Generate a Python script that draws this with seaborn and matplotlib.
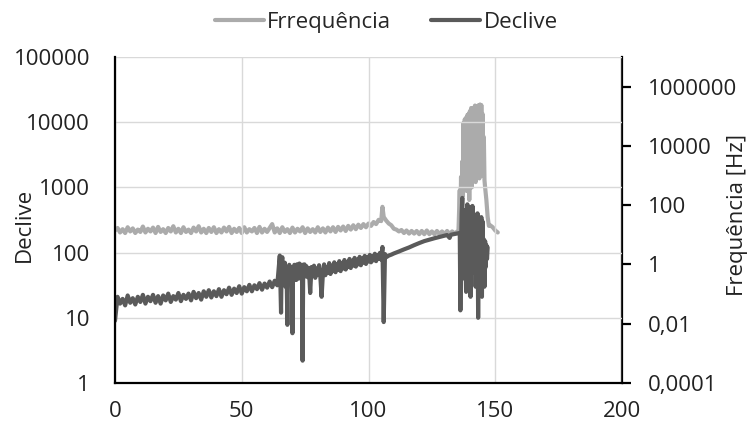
import numpy as np
import matplotlib
matplotlib.use("Agg")
import matplotlib.pyplot as plt
import matplotlib.ticker as mticker
import seaborn as sns

# Declive (left axis)
decl_x = (list(range(0, 65))
          + [65, 65.25, 65.5, 65.75, 66, 66.25, 66.5, 66.75, 67, 67.25, 67.5, 67.75, 68,
             68.25, 68.5, 68.75, 69, 69.25, 69.5, 69.75, 70, 70.25, 70.5, 70.75, 71,
             71.25, 71.5, 71.75, 72, 72.25, 72.5, 72.75, 73, 73.25, 73.5, 73.75, 74,
             74.25, 74.5, 74.75, 75]
          + [75.5, 76, 76.5, 77, 77.5, 78, 78.5, 79, 79.5, 80, 80.5, 81, 81.5, 82, 82.5,
             83, 83.5, 84, 84.5, 85, 85.5, 86, 86.5, 87, 87.5, 88, 88.5, 89, 89.5, 90,
             90.5, 91, 91.5, 92, 92.5, 93, 93.5, 94, 94.5, 95, 95.5, 96, 96.5, 97, 97.5,
             98, 98.5, 99, 99.5, 100, 100.5, 101, 101.5, 102, 102.5, 103, 103.5, 104,
             104.5, 105]
          + [105.5, 106, 106.5, 107, 108, 109, 110, 112, 114, 116, 118, 120, 122, 124,
             126, 128, 130, 131, 132, 132.5, 134, 135, 136]
          + [136.25, 136.5, 136.75, 137, 137.25, 137.5, 137.75, 138, 138.25, 138.5,
             138.75, 139, 139.25, 139.5, 139.75, 140, 140.25, 140.5, 140.75, 141,
             141.25, 141.5, 141.75, 142, 142.25, 142.5, 142.75, 143, 143.25, 143.5,
             143.75, 144, 144.25, 144.5, 144.75, 145, 145.25, 145.5, 145.75, 146,
             146.25, 146.5, 146.75, 147])
decl_y = ([9, 21, 16.5, 19.5, 15.5, 22, 17, 20, 16, 21, 17.5, 22.5, 16.5, 21, 18, 22.5,
           17, 21.5, 16.5, 22, 18.5, 23.5, 17.5, 21.5, 19, 24, 18, 22.5, 19.5, 23.5,
           18.5, 25, 20, 24, 19, 25.5, 21, 26.5, 20.5, 25.5, 21.5, 27.5, 21, 26.5, 23,
           29, 22.5, 28, 24, 30.5, 23.5, 29.5, 25.5, 32, 25.5, 31.5, 27.5, 34, 27, 33.5,
           29, 36, 29.5, 37, 31.5]
          + [90, 30, 12, 70, 85, 35, 60, 40, 70, 30, 55, 35, 7.8, 60, 40, 65, 35, 60, 40,
             55, 5.8, 60, 38, 65, 40, 62, 38, 66, 42, 60, 40, 68, 42, 62, 40, 65, 2.2, 65,
             42, 66, 44]
          + [62, 42, 58, 24, 60, 44, 63, 41, 57, 46, 64, 43, 21, 47, 66, 45, 60, 49, 69,
             47, 63, 52, 71, 50, 66, 54, 74, 52, 69, 57, 77, 55, 72, 60, 80, 58, 75, 63,
             83, 61, 78, 66, 86, 64, 81, 70, 89, 67, 85, 73, 92, 71, 88, 76, 96, 74, 92,
             80, 99, 78]
          + [122, 8.6, 95, 85, 90, 93, 97, 104, 112, 120, 130, 140, 150, 158, 166, 174,
             182, 186, 168, 188, 193, 197, 200]
          + [13, 120, 400, 690, 60, 300, 40, 450, 80, 25, 350, 550, 60, 40, 280, 500, 21,
             200, 90, 520, 70, 300, 50, 380, 30, 250, 60, 400, 10, 200, 80, 280, 40, 350,
             21, 300, 60, 160, 30, 150, 60, 130, 80, 120])

# Frequência (right axis, Hz)
freq_x = (list(range(0, 100))
          + [100, 101, 102, 103, 104, 105, 105.5, 106, 107, 108, 109, 110, 111, 112, 113,
             114, 115, 116, 117, 118, 119, 120, 121, 122, 123, 124, 125, 126, 127, 128,
             129, 130, 131, 132, 133, 134, 135]
          + [135.5, 135.75, 136, 136.25, 136.5, 136.75, 137, 137.25, 137.5, 137.75, 138,
             138.25, 138.5, 138.75, 139, 139.25, 139.5, 139.75, 140, 140.25, 140.5,
             140.75, 141, 141.25, 141.5, 141.75, 142, 142.25, 142.5, 142.75, 143,
             143.25, 143.5, 143.75, 144, 144.25, 144.5, 144.75, 145, 145.25, 145.5,
             145.75, 146, 146.5, 147, 147.5, 148, 149, 150, 151])
freq_y = ([14, 17, 12, 15.5, 11.5, 18, 13, 16.5, 11.5, 15, 12.5, 19, 12, 16, 13, 17.5,
           11.5, 18.5, 12.5, 15.5, 11.5, 17, 13, 19.5, 12, 16, 11.5, 18, 12.5, 15, 11.5,
           17.5, 13, 19.5, 12, 16, 11.5, 17, 12.5, 18, 11.5, 15.5, 12, 17.5, 13, 18.5,
           11.5, 16, 12.5, 17, 11.5, 18, 12, 15.5, 13, 17, 11.5, 18.5, 12, 16, 12.5, 17,
           23, 12, 16.5, 11.5, 18, 12.5, 15.5, 11.5, 17.5, 12, 16, 13, 18, 11.5, 16.5,
           12.5, 15.5, 12, 18, 12.5, 16.5, 12, 17.5, 13, 18, 12.5, 18.5, 14, 19, 13.5,
           20, 15, 21, 15.5, 22, 17, 23, 18]
          + [24, 20, 27, 23, 32, 29, 88, 40, 30, 24, 21, 16, 15, 13, 14.5, 11.5, 14, 11,
             13.5, 11, 13.5, 10.5, 13.5, 10.5, 14, 10.5, 13, 10.5, 13.5, 10.5, 13, 10.5,
             13.5, 10.5, 13, 11, 13]
          + [14, 60, 320, 20, 900, 30, 3000, 200, 60000, 500, 80000, 1000, 90000, 300,
             110000, 3000, 120000, 150, 150000, 2000, 190000, 400, 180000, 800, 190000,
             5000, 230000, 600, 200000, 3000, 220000, 1500, 240000, 800, 250000, 2000,
             240000, 10000, 120000, 1000, 20000, 700, 400, 150, 40, 20, 21, 18, 14, 12])

left_ticks = [1, 10, 100, 1000, 10000, 100000]
right_ticks = [0.0001, 0.01, 1, 100, 10000, 1000000]
right_labels = ["0,0001", "0,01", "1", "100", "10000", "1000000"]
x_ticks = [0, 50, 100, 150, 200]

sns.set_style("white")
plt.rcParams["font.family"] = ["Open Sans", "DejaVu Sans"]
fs = 16
light = "#ababab"
dark = "#5a5a5a"
txt = "#222222"

fig = plt.figure(figsize=(7.56, 4.30), dpi=100)
ax = fig.add_axes([115 / 756, 47 / 430, 507 / 756, 326 / 430])
ax2 = ax.twinx()

sns.lineplot(x=freq_x, y=freq_y, ax=ax2, color=light, linewidth=3.0, label="Frrequência", legend=False)
sns.lineplot(x=decl_x, y=decl_y, ax=ax, color=dark, linewidth=3.0, label="Declive", legend=False)

# dark series above the light one
ax.set_zorder(ax2.get_zorder() + 1)
ax.patch.set_visible(False)

ax.set_yscale("log")
ax.set_ylim(1, 100000)
ax.yaxis.set_major_locator(mticker.FixedLocator(left_ticks))
ax.yaxis.set_major_formatter(mticker.FixedFormatter([str(t) for t in left_ticks]))
ax.yaxis.set_minor_locator(mticker.NullLocator())
ax.set_xlim(0, 200)
ax.set_xticks(x_ticks)
ax.set_xticklabels([str(t) for t in x_ticks])

ax2.set_yscale("log")
ax2.set_ylim(0.0001, 10000000)
ax2.yaxis.set_major_locator(mticker.FixedLocator(right_ticks))
ax2.yaxis.set_major_formatter(mticker.FixedFormatter(right_labels))
ax2.yaxis.set_minor_locator(mticker.NullLocator())

ax.grid(True, color="#d9d9d9", linewidth=1)
ax2.grid(False)

for a in (ax, ax2):
    for s in a.spines.values():
        s.set_visible(False)
ax.spines["left"].set_visible(True)
ax.spines["bottom"].set_visible(True)
ax2.spines["right"].set_visible(True)
for s in (ax.spines["left"], ax.spines["bottom"], ax2.spines["right"]):
    s.set_color("black")
    s.set_linewidth(1.6)

ax.tick_params(axis="y", length=0, pad=18, labelsize=fs, labelcolor=txt)
ax.tick_params(axis="x", length=0, pad=13, labelsize=fs, labelcolor=txt)
ax2.tick_params(axis="y", length=6.5, width=1.6, color="black", direction="out", pad=12,
                labelsize=fs, labelcolor=txt)

ax.set_xlabel("")
ax.set_ylabel("Declive", fontsize=fs, color=txt)
ax.yaxis.set_label_coords(-0.158, 0.485)
ax2.set_ylabel("Frequência [Hz]", fontsize=fs, color=txt)
ax2.yaxis.set_label_coords(1.208, 0.515)

h2, l2 = ax2.get_legend_handles_labels()
h1, l1 = ax.get_legend_handles_labels()
fig.legend(h2 + h1, l2 + l1, loc="center", bbox_to_anchor=(0.511, 0.948), ncol=2,
           frameon=False, fontsize=fs, handlelength=2.2, handletextpad=0.15,
           columnspacing=1.8)

fig.savefig("out.png", dpi=100)
